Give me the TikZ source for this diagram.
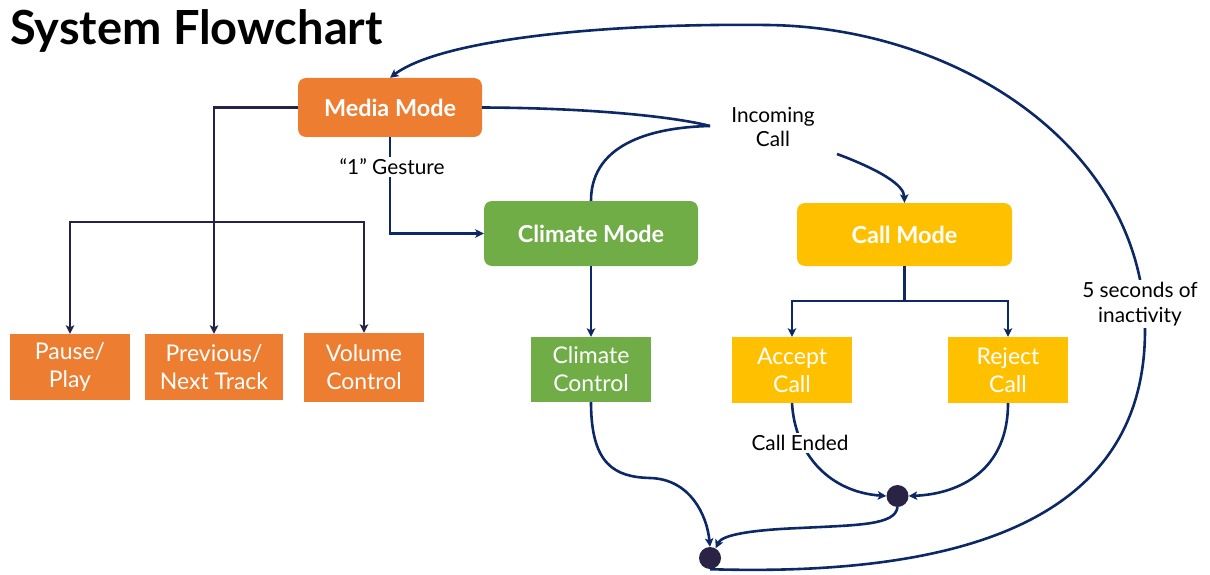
\documentclass[tikz,border=0pt]{standalone}
\usepackage{fontspec}
\setmainfont{Lato}
\usetikzlibrary{arrows.meta}
\definecolor{cOrange}{HTML}{ED7D31}
\definecolor{cGreen}{HTML}{70AD47}
\definecolor{cYellow}{HTML}{FFC000}
\definecolor{cTree}{RGB}{38,35,72}
\definecolor{cNavy}{RGB}{12,40,102}
\definecolor{cDot}{RGB}{42,35,70}
\begin{document}
\begin{tikzpicture}[x=1pt,y=-1pt,
  modebox/.style={rounded corners=8pt, text=white, font=\fontsize{23.4}{27}\selectfont\bfseries, inner sep=0pt},
  subbox/.style={text=white, font=\fontsize{23}{28}\selectfont, align=center, inner sep=0pt},
  lbl/.style={font=\fontsize{20.8}{24.5}\selectfont, align=center, fill=white, inner sep=2pt},
  tree/.style={draw=cTree, line width=2.6pt},
  nav/.style={draw=cNavy, line width=2.6pt},
  tip/.style={-{Stealth[length=8.5pt,width=8.5pt,inset=2pt]}},
  dot/.style={circle, fill=cDot, minimum size=22pt, inner sep=0pt}]
\useasboundingbox (0,0) rectangle (1210,575);

\node[anchor=base west, inner sep=0pt, font=\fontsize{47}{52}\selectfont\bfseries] (title) at (10,45) {System Flowchart};

% mode boxes
\node[modebox, fill=cOrange, minimum width=184pt, minimum height=59pt] (MM) at (390,107.5) {Media Mode};
\node[modebox, fill=cGreen, minimum width=214pt, minimum height=65pt] (CM) at (591,233.5) {Climate Mode};
\node[modebox, fill=cYellow, minimum width=215pt, minimum height=63pt] (CaM) at (904.5,234.5) {Call Mode};

% sub boxes
\node[subbox, fill=cOrange, minimum width=120pt, minimum height=66pt] (PP) at (70,367) {Pause/\\Play};
\node[subbox, fill=cOrange, minimum width=138pt, minimum height=66pt] (PN) at (214,367) {Previous/\\Next Track};
\node[subbox, fill=cOrange, minimum width=120pt, minimum height=69pt] (VC) at (364,367.5) {Volume\\Control};
\node[subbox, fill=cGreen, minimum width=120pt, minimum height=65pt] (CC) at (591,369.5) {Climate\\Control};
\node[subbox, fill=cYellow, minimum width=120pt, minimum height=66pt] (AC) at (792,370) {Accept\\Call};
\node[subbox, fill=cYellow, minimum width=120pt, minimum height=66pt] (RC) at (1008,370) {Reject\\Call};

% dots
\node[dot] (d1) at (897.5,496) {};
\node[dot] (d2) at (710,558) {};

% media tree
\draw[tree,tip] (MM.west) -| (PN.north);
\coordinate (j1) at (214,222);
\draw[tree,tip] (j1) -| (PP.north);
\draw[tree,tip] (j1) -| (VC.north);

% gesture
\draw[nav,tip] (MM.south) |- (CM.west);
% climate
\draw[nav,tip] (CM.south) -- (CC.north);
% call tree
\coordinate (j2) at (904.5,301);
\draw[nav] (CaM.south) -- (j2);
\draw[nav,tip] (j2) -| (AC.north);
\draw[nav,tip] (j2) -| (RC.north);

% incoming call
\coordinate (icin) at (710,126);
\coordinate (icout) at (837,154);
\draw[nav] (MM.east) .. controls (600,108) and (680,118) .. (icin);
\draw[nav] (CM.north) .. controls (591,140) and (660,127) .. (icin);
\draw[nav,tip] (icout) .. controls (880,170) and (904,185) .. (CaM.north);

% call ended
\draw[nav,tip] (AC.south) .. controls (795,455) and (830,492) .. (d1.west);
\draw[nav,tip] (RC.south) .. controls (1008,470) and (960,494) .. (d1.east);

% to bottom dot
\draw[nav,tip] (d1.south) .. controls (895,525) and (860,525) .. (800,528) .. controls (750,530) and (722,535) .. (d2.60);
\draw[nav,tip] (CC.south) .. controls (591,465) and (615,477) .. (650,478) .. controls (690,479) and (707,515) .. (d2.north);

% inactivity loop
\draw[nav,tip] (d2.south) .. controls (1000,578) and (1145,500) .. (1145,330) .. controls (1145,150) and (960,27) .. (767,25) .. controls (600,23) and (440,40) .. (MM.north);

% labels
\node[lbl] (gest) at (392,167) {“1” Gesture};
\node[lbl] (inc) at (773,127) {Incoming\\Call};
\node[lbl] (ended) at (800,443) {Call Ended};
\node[lbl] (inact) at (1140,304) {5 seconds of\\inactivity};
\end{tikzpicture}
\end{document}
